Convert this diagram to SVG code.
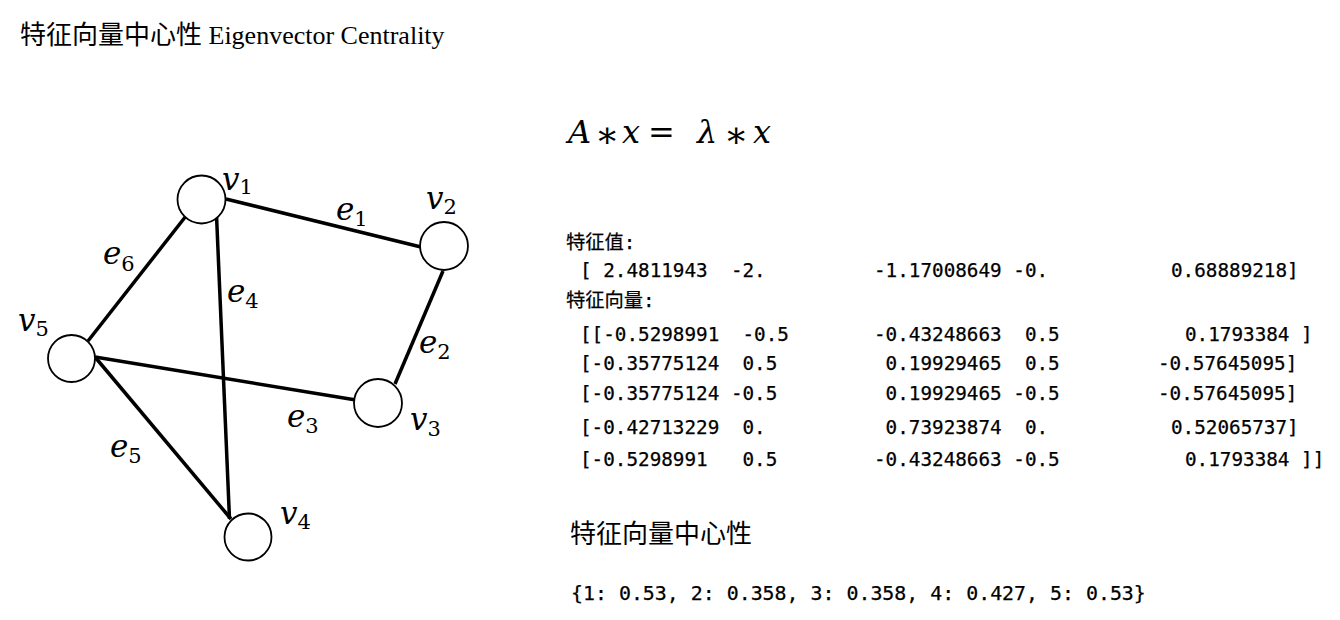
<svg xmlns="http://www.w3.org/2000/svg" width="1340" height="620" viewBox="0 0 1340 620">
<style>
.title{font-family:"Liberation Serif","Noto Sans CJK SC",serif;font-size:26px;fill:#000}
.lbl{font-family:"DejaVu Serif","Liberation Serif",serif;fill:#000}
.mi{font-style:italic;font-size:31px}
.sub{font-style:normal;font-size:21px}
.eq{font-family:"DejaVu Serif","Liberation Serif",serif;font-size:32px;fill:#000}
.eqi{font-style:italic}
.op{font-size:36px}
.mono{font-family:"DejaVu Sans Mono","Noto Sans CJK SC",monospace;font-size:19.3px;fill:#000;stroke:#000;stroke-width:0.25;white-space:pre}
.cjk{font-family:"Noto Sans CJK SC",sans-serif;font-size:26px;fill:#000}
.dict{font-family:"DejaVu Sans Mono",monospace;font-size:19.9px;fill:#000;stroke:#000;stroke-width:0.25;white-space:pre}
.edge{stroke:#000;stroke-width:3.5;stroke-linecap:butt;fill:none}
.node{fill:#fff;stroke:#000;stroke-width:1.8}
</style>
<rect width="1340" height="620" fill="#fff"/>
<text class="title" x="20" y="44">特征向量中心性 Eigenvector Centrality</text>

<g id="connectors">
<line class="edge" x1="226" y1="199" x2="421" y2="247"/>
<line class="edge" x1="443" y1="271" x2="395" y2="384"/>
<line class="edge" x1="95" y1="357" x2="356" y2="400"/>
<line class="edge" x1="216.5" y1="215" x2="229.5" y2="519"/>
<line class="edge" x1="95" y1="357" x2="231" y2="519"/>
<line class="edge" x1="88" y1="341" x2="186" y2="216"/>
</g>

<g id="v1"><circle class="node" cx="201.5" cy="199.5" r="24"/><text class="lbl" x="222" y="190"><tspan class="mi">v</tspan><tspan class="sub" dy="4">1</tspan></text></g>
<g id="v2"><circle class="node" cx="444" cy="246" r="24"/><text class="lbl" x="426" y="209"><tspan class="mi">v</tspan><tspan class="sub" dy="5">2</tspan></text></g>
<g id="v3"><circle class="node" cx="378" cy="403" r="24"/><text class="lbl" x="410" y="430"><tspan class="mi">v</tspan><tspan class="sub" dy="6">3</tspan></text></g>
<g id="v4"><circle class="node" cx="248" cy="537" r="23.5"/><text class="lbl" x="280" y="524"><tspan class="mi">v</tspan><tspan class="sub" dy="5">4</tspan></text></g>
<g id="v5"><circle class="node" cx="71.5" cy="358.5" r="23.5"/><text class="lbl" x="18" y="331"><tspan class="mi">v</tspan><tspan class="sub" dy="5">5</tspan></text></g>

<g id="edge-labels">
<text class="lbl" x="336" y="220"><tspan class="mi">e</tspan><tspan class="sub" dy="6">1</tspan></text>
<text class="lbl" x="419" y="353"><tspan class="mi">e</tspan><tspan class="sub" dy="6">2</tspan></text>
<text class="lbl" x="287" y="427"><tspan class="mi">e</tspan><tspan class="sub" dy="6">3</tspan></text>
<text class="lbl" x="227" y="302"><tspan class="mi">e</tspan><tspan class="sub" dy="6">4</tspan></text>
<text class="lbl" x="110" y="457"><tspan class="mi">e</tspan><tspan class="sub" dy="6">5</tspan></text>
<text class="lbl" x="103" y="264"><tspan class="mi">e</tspan><tspan class="sub" dy="7">6</tspan></text>
</g>

<g id="equation">
<text class="eq" y="143"><tspan class="eqi" x="568">A</tspan><tspan class="op" x="595" dy="4">∗</tspan><tspan class="eqi" x="622" dy="-4">x</tspan><tspan x="648">=</tspan><tspan class="eqi" x="697">λ</tspan><tspan class="op" x="724" dy="4">∗</tspan><tspan class="eqi" x="753" dy="-4">x</tspan></text>
</g>

<g id="output">
<text class="mono" x="566" y="249">特征值:</text>
<text class="mono" y="277"><tspan x="580">[ 2.4811943  -2.</tspan><tspan x="874">-1.17008649 -0.</tspan><tspan x="1171">0.68889218]</tspan></text>
<text class="mono" x="566" y="307">特征向量:</text>
<text class="mono" y="341"><tspan x="580">[[-0.5298991  -0.5</tspan><tspan x="874">-0.43248663  0.5</tspan><tspan x="1185">0.1793384 ]</tspan></text>
<text class="mono" y="370"><tspan x="580">[-0.35775124  0.5</tspan><tspan x="885.6">0.19929465  0.5</tspan><tspan x="1158">-0.57645095]</tspan></text>
<text class="mono" y="400"><tspan x="580">[-0.35775124 -0.5</tspan><tspan x="885.6">0.19929465 -0.5</tspan><tspan x="1158">-0.57645095]</tspan></text>
<text class="mono" y="434"><tspan x="580">[-0.42713229  0.</tspan><tspan x="885.6">0.73923874  0.</tspan><tspan x="1171">0.52065737]</tspan></text>
<text class="mono" y="466"><tspan x="580">[-0.5298991   0.5</tspan><tspan x="874">-0.43248663 -0.5</tspan><tspan x="1185">0.1793384 ]]</tspan></text>
<text class="cjk" x="570" y="543">特征向量中心性</text>
<text class="dict" x="571" y="600">{1: 0.53, 2: 0.358, 3: 0.358, 4: 0.427, 5: 0.53}</text>
</g>
</svg>
